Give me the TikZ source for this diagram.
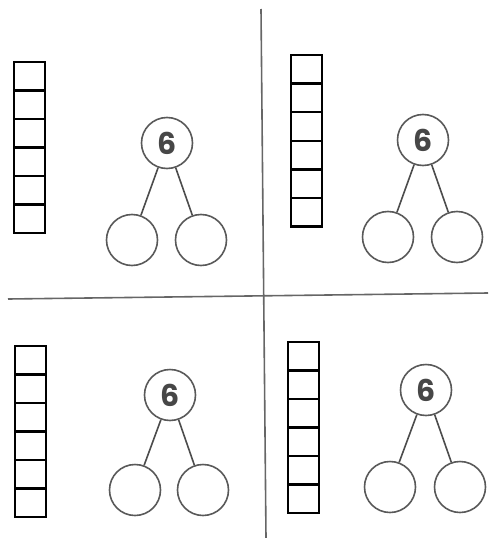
\documentclass[tikz,border=0pt]{standalone}
\usepackage{fontspec}
\setmainfont{Poppins}
\begin{document}
\begin{tikzpicture}[x=1pt,y=-1pt,
  cellbox/.style={draw, line width=2.4pt, minimum width=31pt, minimum height=28.6pt, inner sep=0pt, outer sep=0pt},
  wholecircle/.style={circle, draw=black!65, line width=1.6pt, minimum size=51pt, inner sep=0pt, font=\fontsize{30}{30}\selectfont\bfseries, text=black!72},
  partcircle/.style={circle, draw=black!65, line width=1.6pt, minimum size=51pt, inner sep=0pt},
  branch/.style={draw=black!70, line width=1.6pt},
  divider/.style={draw=black!60, line width=1.6pt}]
\useasboundingbox (0,0) rectangle (488,538);
% dividing lines
\coordinate (vtop) at (261,9);
\coordinate (vbot) at (266,538);
\coordinate (hleft) at (8,299);
\coordinate (hright) at (488,293);
\draw[divider] (vtop) -- (vbot);
\draw[divider] (hleft) -- (hright);
% top left
\foreach \i in {0,...,5}
  \node[cellbox] (a\i) at (29.5,{76.3+28.5*\i}) {};
\node[wholecircle] (w1) at (167,143) {6};
\node[partcircle] (l1) at (132,240) {};
\node[partcircle] (r1) at (201,240) {};
\draw[branch] (w1) -- (l1);
\draw[branch] (w1) -- (r1);
% top right
\foreach \i in {0,...,5}
  \node[cellbox] (b\i) at (306.5,{69.3+28.6*\i}) {};
\node[wholecircle] (w2) at (423,140) {6};
\node[partcircle] (l2) at (388,237) {};
\node[partcircle] (r2) at (457,237) {};
\draw[branch] (w2) -- (l2);
\draw[branch] (w2) -- (r2);
% bottom left
\foreach \i in {0,...,5}
  \node[cellbox] (c\i) at (30.5,{360.3+28.5*\i}) {};
\node[wholecircle] (w3) at (170,395) {6};
\node[partcircle] (l3) at (135,490) {};
\node[partcircle] (r3) at (203,490) {};
\draw[branch] (w3) -- (l3);
\draw[branch] (w3) -- (r3);
% bottom right
\foreach \i in {0,...,5}
  \node[cellbox] (d\i) at (303.5,{356.3+28.5*\i}) {};
\node[wholecircle] (w4) at (426,390) {6};
\node[partcircle] (l4) at (390,487) {};
\node[partcircle] (r4) at (460,487) {};
\draw[branch] (w4) -- (l4);
\draw[branch] (w4) -- (r4);
\end{tikzpicture}
\end{document}
